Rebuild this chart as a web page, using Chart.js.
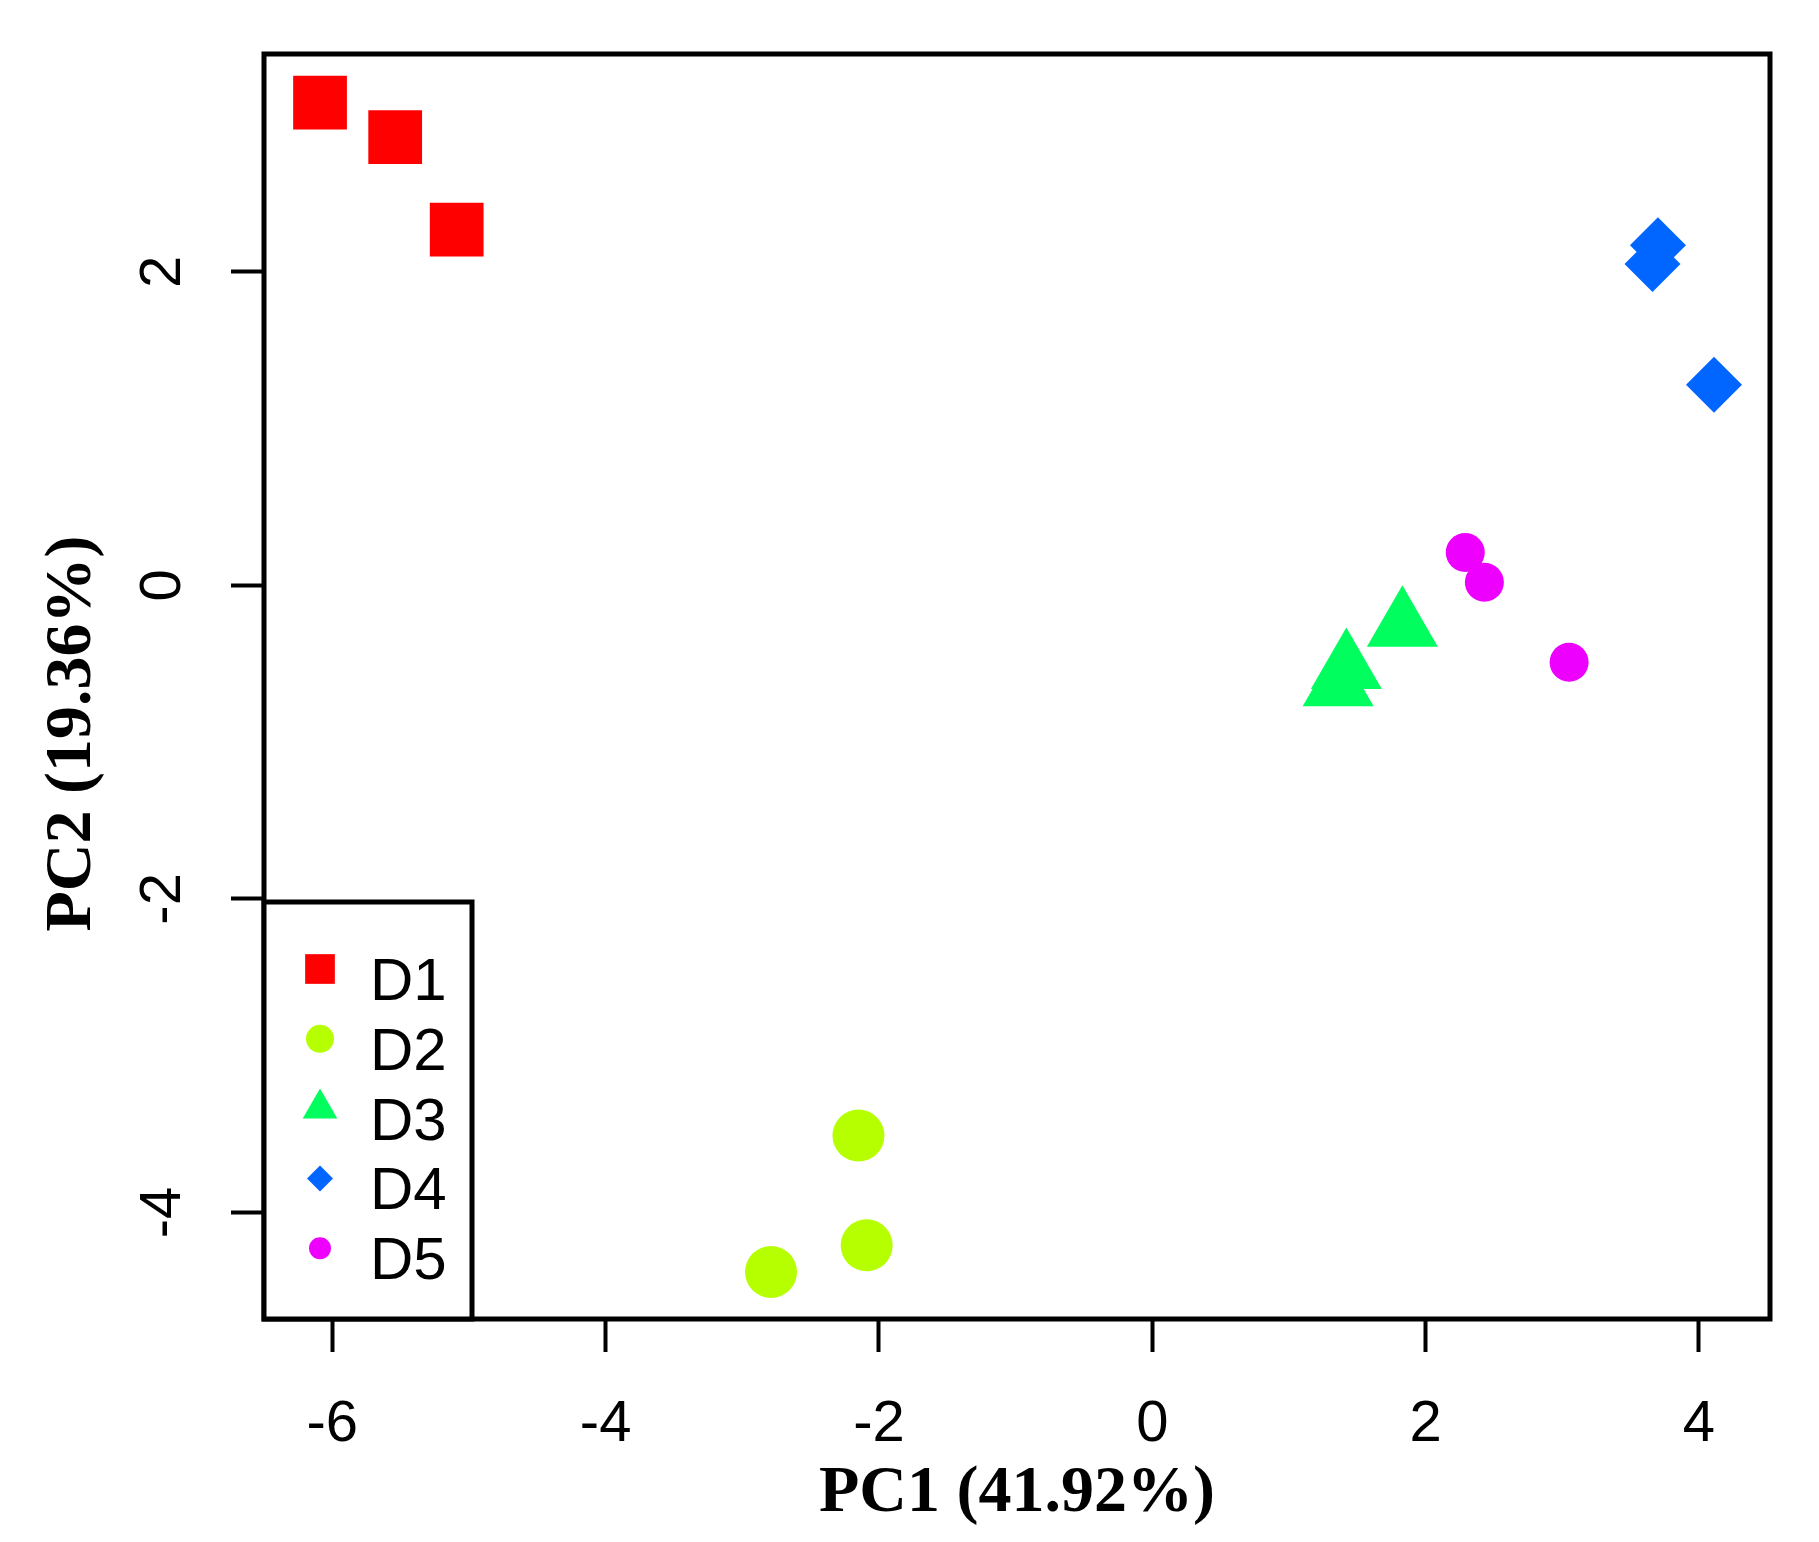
<!DOCTYPE html>
<html>
<head>
<meta charset="utf-8">
<title>PCA D1-D5</title>
<script src="https://cdn.jsdelivr.net/npm/chart.js@4.4.1/dist/chart.umd.min.js"></script>
<style>
  html, body { margin: 0; padding: 0; background: #fff; }
  #wrap { width: 1819px; height: 1542px; }
</style>
</head>
<body>
<div id="wrap"><canvas id="pcaChart" width="1819" height="1542"></canvas></div>
<script>
// grupos e coordenadas (PC1, PC2)
const grupos = ['D1', 'D2', 'D3', 'D4', 'D5'];

const pc1D1 = [-6.09, -5.54, -5.09];
const pc2D1 = [ 3.08,  2.86,  2.27];
const pc1D2 = [-2.15, -2.09, -2.79];
const pc2D2 = [-3.51, -4.21, -4.38];
const pc1D3 = [ 1.83,  1.42,  1.36];
const pc2D3 = [-0.26, -0.53, -0.64];
const pc1D4 = [ 3.70,  3.66,  4.11];
const pc2D4 = [ 2.17,  2.05,  1.28];
const pc1D5 = [ 2.29,  2.43,  3.05];
const pc2D5 = [ 0.21,  0.02, -0.49];

const ticksX = [-6, -4, -2, 0, 2, 4];
const ticksY = [-4, -2, 0, 2];
const limX   = [-6.50, 4.52];
const limY   = [-4.68, 3.39];

const tituloX = 'PC1 (41.92%)';
const tituloY = 'PC2 (19.36%)';

const pc1 = [pc1D1, pc1D2, pc1D3, pc1D4, pc1D5];
const pc2 = [pc2D1, pc2D2, pc2D3, pc2D4, pc2D5];

// estilo de cada grupo (cor, símbolo, tamanho no gráfico e na legenda)
const estilos = [
  { cor: '#FF0000', simbolo: 'rect',     raio: 38, raioLeg: 21 },
  { cor: '#B5FF00', simbolo: 'circle',   raio: 26, raioLeg: 14 },
  { cor: '#00FF5E', simbolo: 'triangle', raio: 41, raioLeg: 20 },
  { cor: '#0066FF', simbolo: 'rectRot',  raio: 28, raioLeg: 13 },
  { cor: '#EE00FF', simbolo: 'circle',   raio: 19.5, raioLeg: 11 }
];

const datasets = grupos.map((g, i) => ({
  label: g,
  data: pc1[i].map((x, j) => ({ x: x, y: pc2[i][j] })),
  pointStyle: estilos[i].simbolo,
  pointRadius: estilos[i].raio,
  pointBackgroundColor: estilos[i].cor,
  pointBorderColor: estilos[i].cor,
  pointBorderWidth: 0,
  showLine: false,
  clip: false
}));

const fonteTitulo = 'bold 66px "Liberation Serif", "Times New Roman", serif';

// moldura do gráfico + legenda no canto inferior esquerdo (estilo R) + título do eixo Y
const molduraLegenda = {
  id: 'molduraLegenda',
  afterDraw(chart) {
    const { ctx, chartArea: a } = chart;
    ctx.save();
    ctx.strokeStyle = '#000';
    ctx.lineWidth = 5;
    ctx.strokeRect(a.left, a.top, a.right - a.left, a.bottom - a.top);

    const legW = 208, legH = 417;
    const lx = a.left, ly = a.bottom - legH;
    ctx.fillStyle = '#fff';
    ctx.fillRect(lx, ly, legW, legH);
    ctx.lineWidth = 5;
    ctx.strokeRect(lx, ly, legW, legH);

    ctx.font = '60px "Liberation Sans", Arial, sans-serif';
    ctx.textAlign = 'left';
    ctx.textBaseline = 'alphabetic';
    grupos.forEach((g, i) => {
      const yRow = ly + 67 + i * 69.8;
      ctx.fillStyle = estilos[i].cor;
      Chart.helpers.drawPoint(ctx, {
        pointStyle: estilos[i].simbolo,
        radius: estilos[i].raioLeg,
        rotation: 0,
        borderWidth: 0
      }, lx + 56, yRow);
      ctx.fillStyle = '#000';
      ctx.fillText(g, lx + 106, yRow + 31);
    });

    // título do eixo Y: no original fica um pouco abaixo do centro da área
    ctx.translate(73, (a.top + a.bottom) / 2 + 47);
    ctx.rotate(-Math.PI / 2);
    ctx.font = fonteTitulo;
    ctx.fillStyle = '#000';
    ctx.textAlign = 'center';
    ctx.textBaseline = 'middle';
    ctx.fillText(tituloY, 0, 0);
    ctx.restore();
  }
};

const eixoComum = {
  type: 'linear',
  border: { display: false },
  grid: { drawOnChartArea: false, drawTicks: true, tickLength: 33, tickWidth: 4, tickColor: '#000' }
};

new Chart(document.getElementById('pcaChart'), {
  type: 'scatter',
  data: { datasets },
  options: {
    responsive: false,
    devicePixelRatio: 1,
    animation: false,
    events: [],
    layout: { autoPadding: false, padding: { top: 54, right: 49, left: 0, bottom: 0 } },
    plugins: { legend: { display: false }, tooltip: { enabled: false } },
    scales: {
      x: {
        ...eixoComum,
        min: limX[0],
        max: limX[1],
        afterBuildTicks: s => { s.ticks = ticksX.map(v => ({ value: v })); },
        afterFit: s => { s.height = 223; s.paddingLeft = 0; s.paddingRight = 0; },
        ticks: {
          color: '#000',
          font: { family: '"Liberation Sans", Arial, sans-serif', size: 58 },
          padding: 38,
          maxRotation: 0,
          autoSkip: false,
          callback: v => String(v)
        },
        title: {
          display: true,
          text: tituloX,
          color: '#000',
          font: { family: '"Liberation Serif", "Times New Roman", serif', size: 66, weight: 'bold' },
          padding: { top: 0, bottom: 8 }
        }
      },
      y: {
        ...eixoComum,
        min: limY[0],
        max: limY[1],
        afterBuildTicks: s => { s.ticks = ticksY.map(v => ({ value: v })); },
        afterFit: s => { s.width = 264; s.paddingTop = 0; s.paddingBottom = 0; },
        ticks: {
          color: '#000',
          font: { family: '"Liberation Sans", Arial, sans-serif', size: 58 },
          padding: 41,
          minRotation: 90,
          maxRotation: 90,
          crossAlign: 'center',
          autoSkip: false,
          callback: v => String(v)
        },
        title: { display: false }
      }
    }
  },
  plugins: [molduraLegenda]
});
</script>
</body>
</html>
